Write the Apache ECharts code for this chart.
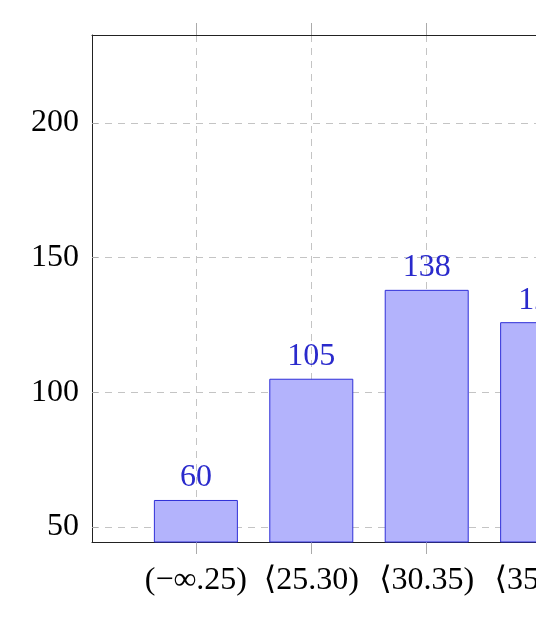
<!DOCTYPE html>
<html><head><meta charset="utf-8">
<script src="https://cdn.jsdelivr.net/npm/echarts@6/dist/echarts.min.js"></script>
<style>html,body{margin:0;padding:0;background:#fff}#c{width:536px;height:628px}</style>
</head><body><div id="c"></div>
<script>
const categories = ['(\u2212\u221E.25)', '\u27E825.30)', '\u27E830.35)', '\u27E835.40)'];
const counts = [60, 105, 138, 126];
const yTicks = [50, 100, 150, 200];
const catPos = categories.map((_, i) => i);

const FONT = '"Liberation Serif","DejaVu Serif",serif';
const chart = echarts.init(document.getElementById('c'), null, {renderer: 'canvas'});
const grid = {left: 92, top: 35, width: 554, height: 507, containLabel: false, outerBoundsMode: 'none'};
const axisLineStyle = {color: '#222', width: 1};
const gridLine = {show: true, lineStyle: {color: '#c4c4c4', type: [7, 6], width: 1}};

chart.setOption({
  animation: false,
  grid: grid,
  xAxis: [{
    type: 'value', position: 'bottom', min: -0.9, max: 3.9,
    axisLine: {show: true, onZero: false, lineStyle: axisLineStyle},
    axisTick: {show: true, inside: false, length: 12, customValues: catPos, lineStyle: {color: '#aaa'}},
    axisLabel: {customValues: catPos, margin: 23, fontFamily: FONT, fontSize: 32, color: '#000',
      hideOverlap: false, formatter: v => categories[Math.round(v)] || ''},
    splitLine: gridLine
  }, {
    type: 'value', position: 'top', min: -0.9, max: 3.9,
    axisLine: {show: true, onZero: false, lineStyle: axisLineStyle},
    axisTick: {show: true, inside: false, length: 12, customValues: catPos, lineStyle: {color: '#aaa'}},
    axisLabel: {show: false},
    splitLine: {show: false}
  }],
  yAxis: [{
    type: 'value', position: 'left', min: 44.4, max: 232.6,
    axisLine: {show: true, onZero: false, lineStyle: axisLineStyle},
    axisTick: {show: true, inside: true, length: 6, customValues: yTicks, lineStyle: {color: '#aaa'}},
    axisLabel: {customValues: yTicks, margin: 13, fontFamily: FONT, fontSize: 32, color: '#000'},
    splitLine: gridLine
  }, {
    type: 'value', position: 'right', min: 44.4, max: 232.6,
    axisLine: {show: true, onZero: false, lineStyle: axisLineStyle},
    axisTick: {show: false}, axisLabel: {show: false}, splitLine: {show: false}
  }],
  series: [{
    type: 'bar', xAxisIndex: 0, yAxisIndex: 0,
    data: counts.map((v, i) => [catPos[i], v]),
    barWidth: 84,
    itemStyle: {color: '#b3b3fc', borderColor: '#3030d8', borderWidth: 1},
    label: {show: true, position: 'top', distance: 6, fontFamily: FONT, fontSize: 32, color: '#2a2acc',
      formatter: p => String(p.value[1])}
  }]
});
</script></body></html>
